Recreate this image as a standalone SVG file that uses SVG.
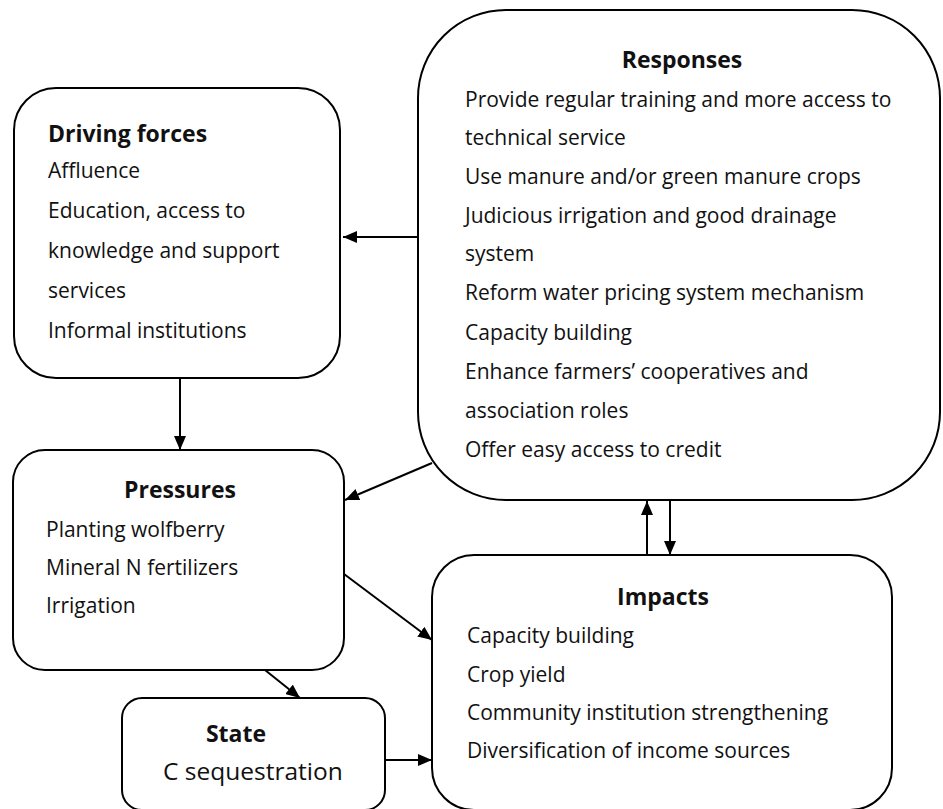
<svg xmlns="http://www.w3.org/2000/svg" width="943" height="809" viewBox="0 0 943 809">
<defs>
<marker id="ah" viewBox="0 0 14 12" refX="14" refY="6" markerWidth="14" markerHeight="12" markerUnits="userSpaceOnUse" orient="auto">
<path d="M0,0 L14,6 L0,12 Z" fill="#000"/>
</marker>
<style>
.box{fill:#fff;stroke:#000;stroke-width:2}
.t{font-family:"Open Sans","Liberation Sans",sans-serif;font-size:21px;fill:#111}
.h{font-family:"Open Sans","Liberation Sans",sans-serif;font-size:23px;font-weight:bold;fill:#111}
.c{stroke:#000;stroke-width:2;fill:none;marker-end:url(#ah)}
</style>
</defs>
<rect width="943" height="809" fill="#fff"/>
<g id="driving">
<rect class="box" x="14" y="88" width="326" height="290" rx="42"/>
<text class="h" x="48" y="142">Driving forces</text>
<text class="t" x="48" y="178">Affluence</text>
<text class="t" x="48" y="218">Education, access to</text>
<text class="t" x="48" y="258">knowledge and support</text>
<text class="t" x="48" y="298">services</text>
<text class="t" x="48" y="338">Informal institutions</text>
</g>
<g id="responses">
<rect class="box" x="418" y="10" width="522" height="490" rx="88"/>
<text class="h" x="682" y="68" text-anchor="middle">Responses</text>
<text class="t" x="465" y="107">Provide regular training and more access to</text>
<text class="t" x="465" y="145">technical service</text>
<text class="t" x="465" y="184">Use manure and/or green manure crops</text>
<text class="t" x="465" y="223">Judicious irrigation and good drainage</text>
<text class="t" x="465" y="261">system</text>
<text class="t" x="465" y="300">Reform water pricing system mechanism</text>
<text class="t" x="465" y="340">Capacity building</text>
<text class="t" x="465" y="379">Enhance farmers’ cooperatives and</text>
<text class="t" x="465" y="418">association roles</text>
<text class="t" x="465" y="457">Offer easy access to credit</text>
</g>
<g id="pressures">
<rect class="box" x="13" y="450" width="331" height="220" rx="32"/>
<text class="h" x="180" y="498" text-anchor="middle">Pressures</text>
<text class="t" x="46" y="537">Planting wolfberry</text>
<text class="t" x="46" y="575">Mineral N fertilizers</text>
<text class="t" x="46" y="613">Irrigation</text>
</g>
<g id="state">
<rect class="box" x="122" y="698" width="263" height="112" rx="20"/>
<text class="h" x="236" y="742" text-anchor="middle">State</text>
<text class="t" x="163" y="780" style="font-size:24.5px">C sequestration</text>
</g>
<g id="impacts">
<rect class="box" x="432" y="555" width="460" height="255" rx="42"/>
<text class="h" x="663" y="605" text-anchor="middle">Impacts</text>
<text class="t" x="467" y="643">Capacity building</text>
<text class="t" x="467" y="682">Crop yield</text>
<text class="t" x="467" y="720">Community institution strengthening</text>
<text class="t" x="467" y="758">Diversification of income sources</text>
</g>
<g id="connectors">
<line class="c" x1="418" y1="237" x2="343" y2="237"/>
<line class="c" x1="180" y1="378" x2="180" y2="450"/>
<line class="c" x1="432" y1="463" x2="345" y2="500"/>
<line class="c" x1="344" y1="574" x2="432" y2="640"/>
<line class="c" x1="265" y1="670" x2="300" y2="698"/>
<line class="c" x1="385" y1="760" x2="432" y2="760"/>
<line class="c" x1="647" y1="555" x2="647" y2="501"/>
<line class="c" x1="670" y1="500" x2="670" y2="555"/>
</g>
</svg>
